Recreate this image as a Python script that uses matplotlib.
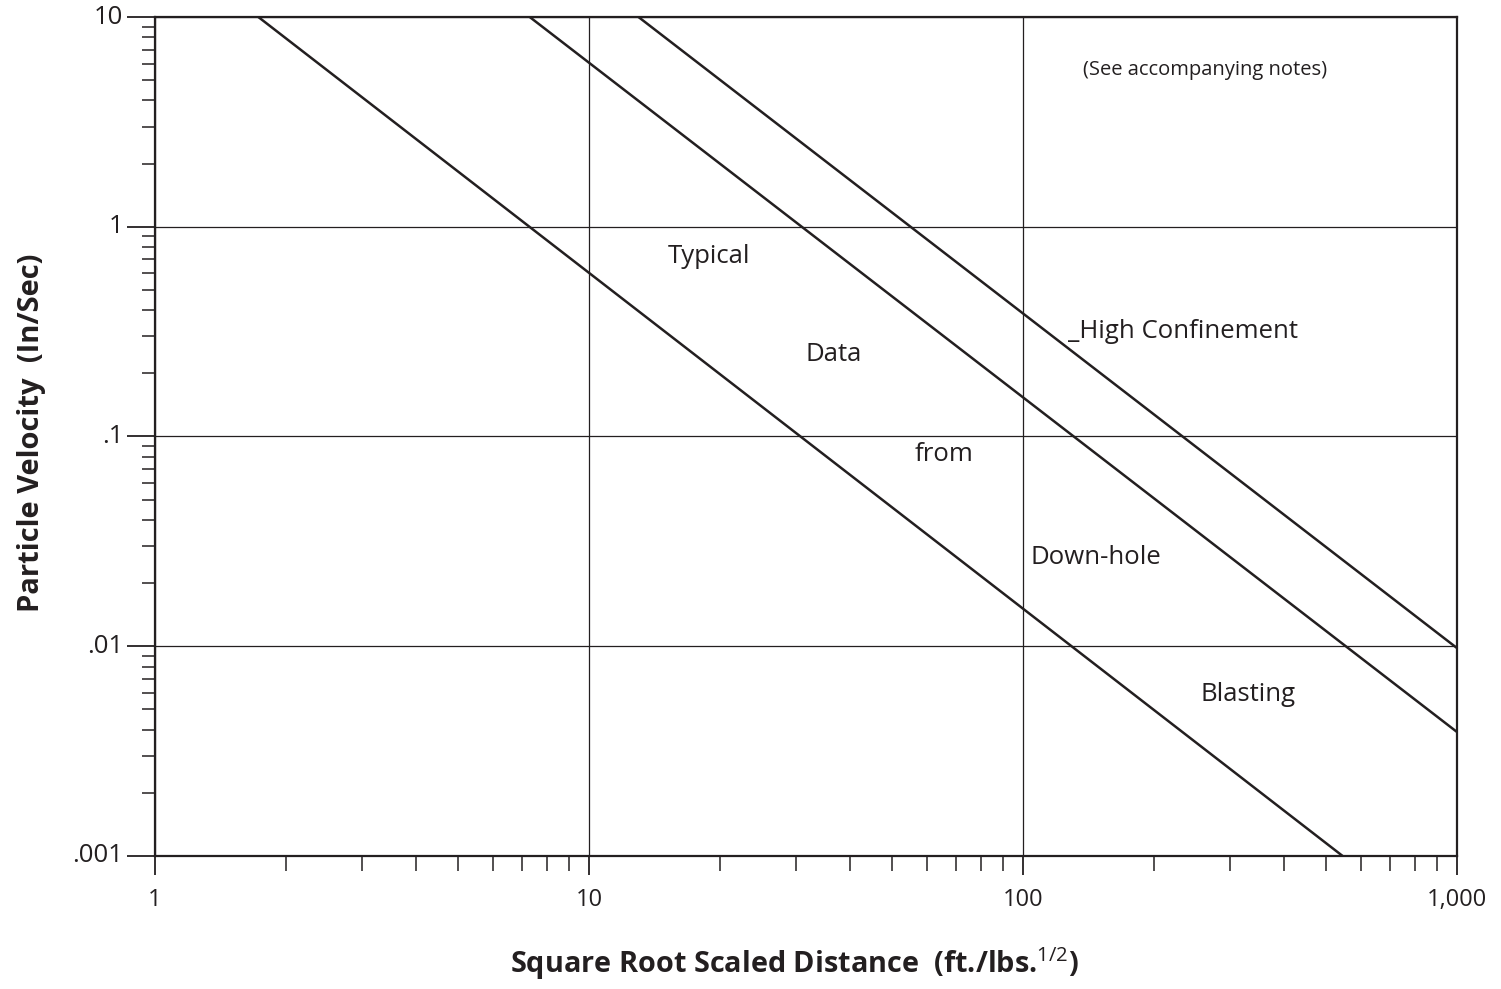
import matplotlib
matplotlib.use("Agg")
import matplotlib.pyplot as plt
from matplotlib.ticker import FixedLocator, FixedFormatter, LogLocator, NullFormatter

plt.rcParams.update({"font.family": ["Open Sans", "DejaVu Sans"],
                     "mathtext.fontset": "custom",
                     "mathtext.rm": "Open Sans",
                     "mathtext.bf": "Open Sans:bold"})

INK = "#231f20"

# end points of the three straight (log-log) attenuation lines
low_sd = [1.73, 545]
low_v = [10, 0.001]
mid_sd = [7.3, 1000]
mid_v = [10, 0.0039]
high_sd = [13, 1000]
high_v = [10, 0.0098]

x_ticks = [1, 10, 100, 1000]
x_labels = ["1", "10", "100", "1,000"]
y_ticks = [0.001, 0.01, 0.1, 1, 10]
y_labels = [".001", ".01", ".1", "1", "10"]

# free text on the plot: (label, x, y)
notes = [("Typical", 15.2, 0.72),
         ("Data", 31.6, 0.245),
         ("from", 56.4, 0.082),
         ("Down-hole", 103.8, 0.0265),
         ("Blasting", 257, 0.0059),
         ("_High Confinement", 127, 0.316)]

fig = plt.figure(figsize=(15.01, 9.89), dpi=100)
ax = fig.add_axes([0.1033, 0.1345, 0.8674, 0.8483])
ax.set_xscale("log")
ax.set_yscale("log")
ax.set_xlim(1, 1000)
ax.set_ylim(0.001, 10)

for xs, ys in [(low_sd, low_v), (mid_sd, mid_v), (high_sd, high_v)]:
    ax.plot(xs, ys, color=INK, lw=1.8, solid_capstyle="butt")

ax.xaxis.set_major_locator(FixedLocator(x_ticks))
ax.xaxis.set_major_formatter(FixedFormatter(x_labels))
ax.yaxis.set_major_locator(FixedLocator(y_ticks))
ax.yaxis.set_major_formatter(FixedFormatter(y_labels))
ax.xaxis.set_minor_locator(LogLocator(base=10, subs=range(2, 10)))
ax.yaxis.set_minor_locator(LogLocator(base=10, subs=range(2, 10)))
ax.xaxis.set_minor_formatter(NullFormatter())
ax.yaxis.set_minor_formatter(NullFormatter())

ax.grid(True, which="major", color=INK, lw=0.9)
for s in ax.spines.values():
    s.set_color(INK)
    s.set_linewidth(1.6)

ax.tick_params(axis="x", which="major", direction="out", length=14, width=1.3,
               color=INK, labelsize=17, pad=9, labelcolor=INK)
ax.tick_params(axis="x", which="minor", direction="out", length=11, width=1.1, color=INK)
ax.tick_params(axis="y", which="major", direction="out", length=20, width=1.3,
               color=INK, labelsize=18.5, pad=3, labelcolor=INK)
ax.tick_params(axis="y", which="minor", direction="out", length=9.5, width=1.1, color=INK)
for lab in ax.get_yticklabels():
    lab.set_verticalalignment("center")

for label, x, y in notes:
    ax.text(x, y, label, fontsize=18.5, color=INK, ha="left", va="center")
ax.text(262, 5.6, "(See accompanying notes)", fontsize=14.5, color=INK,
        ha="center", va="center")

fig.text(0.529, 0.016, r"Square Root Scaled Distance  (ft./lbs.$^{1/2}$)",
         fontsize=20.8, fontweight="bold", color=INK, ha="center", va="baseline")
fig.text(0.021, 0.562, "Particle Velocity  (In/Sec)", fontsize=21,
         fontweight="bold", color=INK, rotation=90, ha="center", va="center")

fig.savefig("out.png", dpi=100)
